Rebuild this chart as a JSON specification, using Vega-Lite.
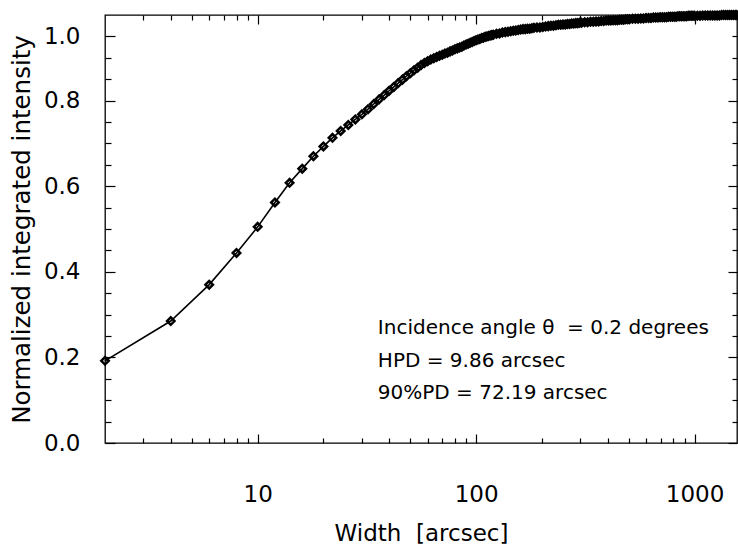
{
  "$schema": "https://vega.github.io/schema/vega-lite/v6.json",
  "autosize": "none",
  "width": 632,
  "height": 428,
  "padding": {"left": 105, "top": 15, "right": 1, "bottom": 113},
  "background": "white",
  "config": {
    "view": {"stroke": "#000", "strokeWidth": 1.3},
    "font": "DejaVu Sans",
    "axis": {"grid": false, "domain": false, "labelColor": "#000", "titleColor": "#000", "tickColor": "#000", "labelFont": "DejaVu Sans", "titleFont": "DejaVu Sans", "titleFontWeight": "normal"}
  },
  "datasets": {
    "curve": [
      {"w": 2, "v": 0.192}, {"w": 4, "v": 0.285}, {"w": 6, "v": 0.370}, {"w": 8, "v": 0.444}, {"w": 10, "v": 0.505},
      {"w": 12, "v": 0.562}, {"w": 14, "v": 0.608}, {"w": 16, "v": 0.641}, {"w": 18, "v": 0.670}, {"w": 20, "v": 0.693},
      {"w": 22, "v": 0.713}, {"w": 24, "v": 0.729}, {"w": 26, "v": 0.743}, {"w": 28, "v": 0.756}, {"w": 30, "v": 0.768},
      {"w": 32, "v": 0.780}, {"w": 34, "v": 0.792}, {"w": 36, "v": 0.803}, {"w": 38, "v": 0.813}, {"w": 40, "v": 0.823},
      {"w": 42, "v": 0.832}, {"w": 44, "v": 0.841}, {"w": 46, "v": 0.849}, {"w": 48, "v": 0.857}, {"w": 50, "v": 0.864},
      {"w": 52, "v": 0.871}, {"w": 54, "v": 0.877}, {"w": 56, "v": 0.883}, {"w": 58, "v": 0.888}, {"w": 60, "v": 0.892},
      {"w": 62, "v": 0.896}, {"w": 64, "v": 0.899}, {"w": 66, "v": 0.902}, {"w": 68, "v": 0.905}, {"w": 70, "v": 0.907},
      {"w": 72, "v": 0.910}, {"w": 74, "v": 0.912}, {"w": 76, "v": 0.915}, {"w": 78, "v": 0.917}, {"w": 80, "v": 0.920},
      {"w": 82, "v": 0.922}, {"w": 84, "v": 0.924}, {"w": 86, "v": 0.926}, {"w": 88, "v": 0.929}, {"w": 90, "v": 0.931},
      {"w": 92, "v": 0.933}, {"w": 94, "v": 0.935}, {"w": 96, "v": 0.937}, {"w": 98, "v": 0.939}, {"w": 100, "v": 0.941},
      {"w": 102, "v": 0.943}, {"w": 104, "v": 0.944}, {"w": 106, "v": 0.946}, {"w": 108, "v": 0.947}, {"w": 110, "v": 0.949},
      {"w": 112, "v": 0.950}, {"w": 114, "v": 0.951}, {"w": 116, "v": 0.952}, {"w": 118, "v": 0.953}, {"w": 120, "v": 0.954},
      {"w": 124, "v": 0.956}, {"w": 128, "v": 0.957}, {"w": 132, "v": 0.959}, {"w": 136, "v": 0.960}, {"w": 140, "v": 0.961},
      {"w": 144, "v": 0.962}, {"w": 148, "v": 0.963}, {"w": 152, "v": 0.964}, {"w": 156, "v": 0.965}, {"w": 160, "v": 0.966},
      {"w": 164, "v": 0.967}, {"w": 168, "v": 0.967}, {"w": 172, "v": 0.968}, {"w": 176, "v": 0.968}, {"w": 180, "v": 0.969},
      {"w": 184, "v": 0.970}, {"w": 190, "v": 0.971},
      {"w": 196, "v": 0.971}, {"w": 202, "v": 0.972}, {"w": 208, "v": 0.973}, {"w": 214, "v": 0.974}, {"w": 220, "v": 0.975},
      {"w": 226, "v": 0.975}, {"w": 232, "v": 0.976}, {"w": 238, "v": 0.977}, {"w": 244, "v": 0.977}, {"w": 250, "v": 0.978},
      {"w": 256, "v": 0.978}, {"w": 262, "v": 0.979}, {"w": 268, "v": 0.979}, {"w": 274, "v": 0.980}, {"w": 280, "v": 0.980},
      {"w": 286, "v": 0.981}, {"w": 292, "v": 0.981}, {"w": 298, "v": 0.982}, {"w": 304, "v": 0.982}, {"w": 314, "v": 0.983},
      {"w": 324, "v": 0.983}, {"w": 334, "v": 0.984}, {"w": 344, "v": 0.984}, {"w": 354, "v": 0.985}, {"w": 364, "v": 0.985},
      {"w": 374, "v": 0.986}, {"w": 384, "v": 0.986}, {"w": 394, "v": 0.987}, {"w": 404, "v": 0.987}, {"w": 414, "v": 0.987},
      {"w": 424, "v": 0.988}, {"w": 434, "v": 0.988}, {"w": 444, "v": 0.988}, {"w": 454, "v": 0.989}, {"w": 464, "v": 0.989},
      {"w": 474, "v": 0.989}, {"w": 484, "v": 0.990}, {"w": 494, "v": 0.990}, {"w": 504, "v": 0.990}, {"w": 520, "v": 0.991},
      {"w": 536, "v": 0.991}, {"w": 552, "v": 0.991}, {"w": 568, "v": 0.992}, {"w": 584, "v": 0.992}, {"w": 600, "v": 0.993},
      {"w": 616, "v": 0.993}, {"w": 632, "v": 0.993}, {"w": 648, "v": 0.994}, {"w": 664, "v": 0.994}, {"w": 680, "v": 0.994},
      {"w": 696, "v": 0.995}, {"w": 712, "v": 0.995}, {"w": 728, "v": 0.995}, {"w": 744, "v": 0.995}, {"w": 760, "v": 0.996},
      {"w": 776, "v": 0.996}, {"w": 792, "v": 0.996}, {"w": 808, "v": 0.996}, {"w": 824, "v": 0.996}, {"w": 840, "v": 0.997},
      {"w": 856, "v": 0.997}, {"w": 872, "v": 0.997}, {"w": 888, "v": 0.997}, {"w": 904, "v": 0.997}, {"w": 920, "v": 0.997},
      {"w": 936, "v": 0.998}, {"w": 952, "v": 0.998}, {"w": 968, "v": 0.998}, {"w": 984, "v": 0.998}, {"w": 1000, "v": 0.998},
      {"w": 1030, "v": 0.998}, {"w": 1060, "v": 0.998}, {"w": 1090, "v": 0.999}, {"w": 1120, "v": 0.999}, {"w": 1150, "v": 0.999},
      {"w": 1180, "v": 0.999}, {"w": 1210, "v": 0.999}, {"w": 1240, "v": 0.999}, {"w": 1270, "v": 0.999}, {"w": 1300, "v": 0.999},
      {"w": 1330, "v": 1.0}, {"w": 1360, "v": 1.0}, {"w": 1390, "v": 1.0}, {"w": 1420, "v": 1.0}, {"w": 1450, "v": 1.0},
      {"w": 1480, "v": 1.0}, {"w": 1510, "v": 1.0}, {"w": 1540, "v": 1.0}, {"w": 1560, "v": 1.0}
    ],
    "notes": [
      {"w": 35.5, "v": 0.268, "label": "Incidence angle θ \u00a0= 0.2 degrees"},
      {"w": 35.5, "v": 0.191, "label": "HPD = 9.86 arcsec"},
      {"w": 35.5, "v": 0.116, "label": "90%PD = 72.19 arcsec"}
    ]
  },
  "layer": [
    {
      "data": {"name": "curve"},
      "mark": {"type": "line", "color": "#000", "strokeWidth": 1.6},
      "encoding": {
        "x": {"field": "w", "type": "quantitative",
          "scale": {"type": "log", "domain": [2, 1565], "nice": false},
          "axis": {"orient": "bottom", "values": [10, 100, 1000], "format": "d", "ticks": false, "tickSize": 0,
            "labelPadding": 40, "labelFontSize": 23, "labelBaseline": "top",
            "title": "Width \u00a0[arcsec]", "titleFontSize": 23, "titlePadding": 16}},
        "y": {"field": "v", "type": "quantitative",
          "scale": {"domain": [0, 1.0], "nice": false, "zero": false},
          "axis": {"orient": "left", "values": [0, 0.2, 0.4, 0.6, 0.8, 0.95], "ticks": false, "tickSize": 0,
            "labelExpr": "datum.value == 0.95 ? '1.0' : format(datum.value, '.1f')",
            "labelPadding": 25, "labelFontSize": 23,
            "title": "Normalized integrated intensity", "titleFontSize": 24.5, "titlePadding": 9}}
      }
    },
    {
      "data": {"name": "curve"},
      "mark": {"type": "point", "shape": "diamond", "filled": false, "color": "#000", "strokeWidth": 2.5, "size": 56, "opacity": 1},
      "encoding": {
        "x": {"field": "w", "type": "quantitative",
          "axis": {"orient": "bottom", "values": [3,4,5,6,7,8,9,10,20,30,40,50,60,70,80,90,100,200,300,400,500,600,700,800,900,1000],
            "labels": false, "title": null,
            "tickSize": {"condition": {"test": "datum.value == 10 || datum.value == 100 || datum.value == 1000", "value": -9}, "value": -5},
            "tickWidth": 1.2}},
        "y": {"field": "v", "type": "quantitative",
          "axis": {"orient": "left", "values": [0,0.05,0.1,0.15,0.2,0.25,0.3,0.35,0.4,0.45,0.5,0.55,0.6,0.65,0.7,0.75,0.8,0.85,0.9,0.95],
            "labels": false, "title": null,
            "tickSize": {"condition": {"test": "indexof([0,0.2,0.4,0.6,0.8,0.95], datum.value) >= 0", "value": -10}, "value": -6},
            "tickWidth": 1.2}}
      }
    },
    {
      "data": {"name": "notes"},
      "mark": {"type": "text", "align": "left", "baseline": "middle", "fontSize": 20, "color": "#000", "font": "DejaVu Sans"},
      "encoding": {
        "x": {"field": "w", "type": "quantitative",
          "axis": {"orient": "top", "values": [3,4,5,6,7,8,9,10,20,30,40,50,60,70,80,90,100,200,300,400,500,600,700,800,900,1000],
            "labels": false, "title": null,
            "tickSize": {"condition": {"test": "datum.value == 10 || datum.value == 100 || datum.value == 1000", "value": -9}, "value": -5},
            "tickWidth": 1.2}},
        "y": {"field": "v", "type": "quantitative",
          "axis": {"orient": "right", "values": [0,0.05,0.1,0.15,0.2,0.25,0.3,0.35,0.4,0.45,0.5,0.55,0.6,0.65,0.7,0.75,0.8,0.85,0.9,0.95],
            "labels": false, "title": null,
            "tickSize": {"condition": {"test": "indexof([0,0.2,0.4,0.6,0.8], datum.value) >= 0", "value": -9}, "value": -5},
            "tickWidth": 1.2}},
        "text": {"field": "label", "type": "nominal"}
      }
    }
  ],
  "resolve": {"axis": {"x": "independent", "y": "independent"}}
}
